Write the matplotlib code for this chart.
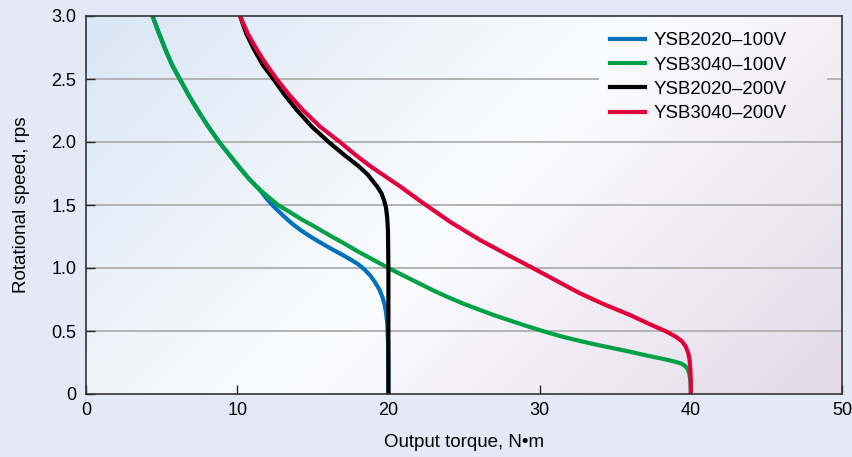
import numpy as np
import matplotlib
matplotlib.use("Agg")
import matplotlib.pyplot as plt
from matplotlib.colors import to_rgb

plt.rcParams['font.family'] = ['Liberation Sans', 'DejaVu Sans']

# ---- data ----
series_names = ["YSB2020\u2013100V", "YSB3040\u2013100V", "YSB2020\u2013200V", "YSB3040\u2013200V"]

blue_x = [4.4, 4.8, 5.3, 5.7, 6.2, 6.8, 7.4, 8.1, 8.8, 9.5, 10.2, 10.8, 11.5, 11.95, 12.4, 13.0, 13.6,
          14.2, 14.9, 15.6, 16.36, 17.1, 17.6, 18.0, 18.4, 18.8, 19.1, 19.4, 19.6, 19.75, 19.85, 19.93,
          19.98, 20.0, 20.0]
blue_y = [3.0, 2.87, 2.72, 2.61, 2.5, 2.37, 2.25, 2.12, 2.0, 1.895, 1.79, 1.705, 1.62, 1.55, 1.49, 1.42, 1.355,
          1.30, 1.245, 1.195, 1.143, 1.095, 1.06, 1.03, 0.99, 0.94, 0.89, 0.83, 0.77, 0.71, 0.64, 0.55,
          0.4, 0.2, 0.0]

green_x = [4.4, 4.8, 5.3, 5.7, 6.2, 6.8, 7.4, 8.1, 8.8, 9.5, 10.2, 10.8, 11.5, 12.1, 12.7, 13.4, 14.2, 15.1,
           16.1, 17.0, 18.0, 19.0, 20.0, 21.0, 22.0, 23.0, 24.1, 25.1, 26.1, 27.0, 28.0, 29.0, 30.2, 31.5,
           32.7, 33.8, 35.0, 36.0, 37.1, 38.3, 39.0, 39.4, 39.65, 39.8, 39.9, 39.97, 40.0, 40.0]
green_y = [3.0, 2.87, 2.72, 2.61, 2.5, 2.37, 2.25, 2.12, 2.0, 1.895, 1.79, 1.705, 1.62, 1.56, 1.50, 1.45, 1.39, 1.33,
           1.26, 1.20, 1.13, 1.065, 1.0, 0.94, 0.88, 0.82, 0.76, 0.71, 0.665, 0.625, 0.585, 0.545, 0.50, 0.455,
           0.42, 0.39, 0.36, 0.335, 0.305, 0.275, 0.255, 0.24, 0.22, 0.195, 0.16, 0.11, 0.05, 0.0]

black_x = [10.19, 10.6, 11.11, 11.7, 12.39, 13.1, 13.9, 14.95, 16.05, 17.05, 18.01, 18.6, 19.0, 19.3, 19.55,
           19.72, 19.84, 19.92, 19.97, 20.0, 20.0]
black_y = [3.0, 2.86, 2.735, 2.61, 2.5, 2.38, 2.259, 2.12, 2.0, 1.9, 1.81, 1.745, 1.685, 1.64, 1.59,
           1.535, 1.48, 1.40, 1.3, 1.0, 0.0]

red_x = [10.19, 10.7, 11.29, 11.9, 12.61, 13.4, 14.3, 15.5, 16.8, 17.8, 18.78, 20.77, 22.3, 24.1, 26.06,
         27.8, 29.59, 31.1, 32.67, 34.3, 35.98, 37.3, 38.4, 39.0, 39.4, 39.65, 39.82, 39.92, 39.97, 40.0, 40.0]
red_y = [3.0, 2.86, 2.735, 2.62, 2.5, 2.38, 2.259, 2.12, 2.0, 1.9, 1.81, 1.648, 1.515, 1.365, 1.222,
         1.11, 0.997, 0.9, 0.799, 0.71, 0.627, 0.553, 0.495, 0.455, 0.42, 0.38, 0.33, 0.27, 0.2, 0.1, 0.0]

x_ticks = [0, 10, 20, 30, 40, 50]
x_ticklabels = ["0", "10", "20", "30", "40", "50"]
y_ticks = [0, 0.5, 1.0, 1.5, 2.0, 2.5, 3.0]
y_ticklabels = ["0", "0.5", "1.0", "1.5", "2.0", "2.5", "3.0"]
grid_levels = [0.5, 1.0, 1.5, 2.0]
legend_gap_level = 2.5

colors = ["#0072bc", "#00a046", "#000000", "#e2003c"]

# ---- figure ----
FW, FH = 853, 457
AX_L, AX_R, AX_T, AX_B = 86, 842, 16, 394
fig = plt.figure(figsize=(FW / 100, FH / 100), dpi=100, facecolor="#e4eaf5")
ax = fig.add_axes([AX_L / FW, 1 - AX_B / FH, (AX_R - AX_L) / FW, (AX_B - AX_T) / FH])
aw, ah = AX_R - AX_L, AX_B - AX_T

# gradient background
W, H = 400, 200
xx, yy = np.meshgrid(np.linspace(0, 1, W), np.linspace(0, 1, H))
t = (xx * aw + yy * ah) / (aw + ah)
tl = np.array(to_rgb("#d9e6f4"))
mid = np.array(to_rgb("#fbfcfe"))
br = np.array(to_rgb("#e3d9e8"))
a = np.clip(t / 0.5, 0, 1)[..., None]
b = np.clip((t - 0.5) / 0.5, 0, 1)[..., None]
img = np.where(t[..., None] < 0.5, tl * (1 - a) + mid * a, mid * (1 - b) + br * b)
ax.imshow(img, extent=[0, 1, 0, 1], transform=ax.transAxes, aspect='auto', zorder=0, origin='upper')

ax.set_xlim(0, 50)
ax.set_ylim(0, 3.0)

grid_kw = dict(color="#b3b3b3", lw=1.4, zorder=1)
for yv in grid_levels:
    ax.axhline(yv, **grid_kw)
# the top gridline is interrupted behind the legend
ax.axhline(legend_gap_level, xmax=(598 - AX_L) / aw, **grid_kw)
ax.axhline(legend_gap_level, xmin=(828 - AX_L) / aw, **grid_kw)

lw = 3.0
ax.plot(blue_x, blue_y, color=colors[0], lw=lw, label=series_names[0], zorder=3)
ax.plot(green_x, green_y, color=colors[1], lw=lw, label=series_names[1], zorder=4)
ax.plot(black_x, black_y, color=colors[2], lw=lw, label=series_names[2], zorder=5)
ax.plot(red_x, red_y, color=colors[3], lw=lw, label=series_names[3], zorder=6)

ax.set_xticks(x_ticks)
ax.set_xticklabels(x_ticklabels)
ax.set_yticks(y_ticks)
ax.set_yticklabels(y_ticklabels)
ax.tick_params(direction='in', length=6.5, width=1, labelsize=13, colors='#222222', labelcolor='black')
ax.tick_params(axis='x', pad=6)
ax.tick_params(axis='y', pad=7)

for s in ax.spines.values():
    s.set_color("#333333")
    s.set_linewidth(1.2)
    s.set_zorder(7)

ax.set_xlabel("Output torque, N\u2022m", fontsize=13.5)
ax.xaxis.set_label_coords(0.5, (AX_B - 434) / ah)
ax.set_ylabel("Rotational speed, rps", fontsize=13.5)
ax.yaxis.set_label_coords((30 - AX_L) / aw, (AX_B - 205) / ah)

leg = ax.legend(loc='upper left', bbox_to_anchor=((610 - AX_L) / aw, (AX_B - 32) / ah), frameon=False,
                fontsize=13.4, handlelength=1.9, handletextpad=0.45, labelspacing=0.4, borderpad=0.0,
                borderaxespad=0.0)
leg.set_zorder(8)

fig.savefig("out.png", dpi=100, facecolor=fig.get_facecolor())
